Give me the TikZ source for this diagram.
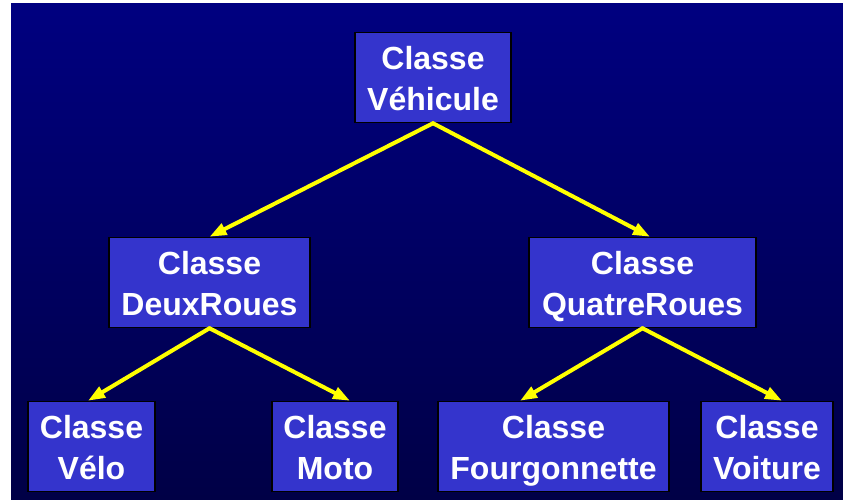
\documentclass[tikz,border=0pt]{standalone}
\usepackage{fontspec}
\setmainfont{Liberation Sans}
\usetikzlibrary{arrows.meta}
\definecolor{bgtop}{RGB}{0,0,128}
\definecolor{bgbot}{RGB}{0,0,70}
\definecolor{boxfill}{RGB}{52,52,204}
\definecolor{arrowyellow}{RGB}{255,255,0}
\newcommand{\twolines}[2]{\rule{0pt}{37pt}#1\\\strut #2}
\tikzset{
  classbox/.style={draw=black, line width=1.2pt, fill=boxfill, text=white,
    align=center, inner sep=0pt, minimum height=89pt,
    font=\fontsize{32}{41}\selectfont\bfseries},
  inherit/.style={draw=arrowyellow, line width=4pt, line cap=round,
    -{Triangle[length=17pt,width=12pt]}}
}
\begin{document}
\begin{tikzpicture}[x=1pt,y=-1pt]
\useasboundingbox (0,0) rectangle (843,499);
\fill[white] (0,0) rectangle (843,499);
\shade[top color=bgtop, bottom color=bgbot] (11,3) rectangle (843,499);

\node[classbox, minimum width=156pt] (veh) at (433,77.5) {\twolines{Classe}{Véhicule}};
\node[classbox, minimum width=201pt] (deux) at (209.5,282.5) {\twolines{Classe}{DeuxRoues}};
\node[classbox, minimum width=227pt] (quatre) at (642.5,282.5) {\twolines{Classe}{QuatreRoues}};
\node[classbox, minimum width=127pt] (velo) at (91.5,446.5) {\twolines{Classe}{Vélo}};
\node[classbox, minimum width=126pt] (moto) at (335,446.5) {\twolines{Classe}{Moto}};
\node[classbox, minimum width=231pt] (fourg) at (553.5,446.5) {\twolines{Classe}{Fourgonnette}};
\node[classbox, minimum width=132pt] (voit) at (767,446.5) {\twolines{Classe}{Voiture}};

\draw[inherit] (veh.south) -- (deux.north);
\draw[inherit] (veh.south) -- ([xshift=7.5pt]quatre.north);
\draw[inherit] (deux.south) -- ([xshift=-3.5pt]velo.north);
\draw[inherit] (deux.south) -- ([xshift=15pt]moto.north);
\draw[inherit] (quatre.south) -- ([xshift=-33.5pt]fourg.north);
\draw[inherit] (quatre.south) -- ([xshift=15pt]voit.north);
\end{tikzpicture}
\end{document}
